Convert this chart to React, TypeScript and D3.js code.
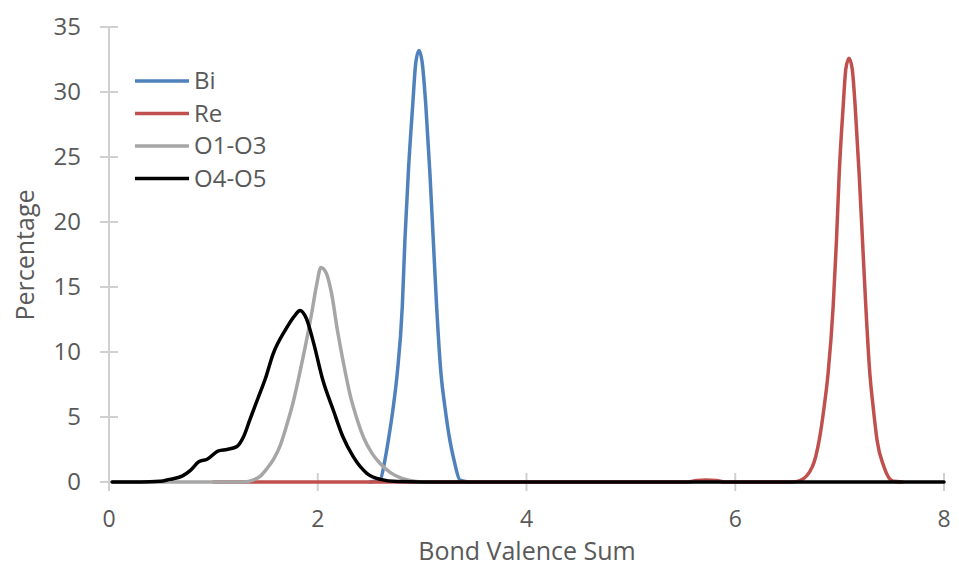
import React from "react";
import * as d3 from "d3";

const seriesNames = ["Bi", "Re", "O1-O3", "O4-O5"];
const seriesColors = ["#4f81bd", "#c0504d", "#a6a6a6", "#000000"];

const biX = [2.5, 2.596, 2.644, 2.676, 2.724, 2.762, 2.81, 2.835, 2.867, 2.909, 2.94, 2.97, 3.0, 3.036, 3.075, 3.107, 3.139, 3.18, 3.218, 3.266, 3.305, 3.362, 3.45];
const biY = [0, 0.15, 1.7, 3.2, 5.8, 8.4, 13.5, 18.6, 23.7, 28.9, 32.3, 33.2, 32.3, 28.9, 23.7, 18.6, 13.5, 8.4, 5.8, 3.2, 1.7, 0.15, 0];

const reX = [1.0, 5.55, 5.63, 5.72, 5.82, 5.9, 6.55, 6.619, 6.74, 6.804, 6.852, 6.89, 6.938, 6.97, 6.996, 7.034, 7.06, 7.09, 7.12, 7.149, 7.187, 7.219, 7.251, 7.289, 7.321, 7.359, 7.423, 7.513, 7.6];
const reY = [0, 0, 0.12, 0.15, 0.12, 0, 0, 0.1, 1.2, 3.2, 5.8, 8.4, 13.5, 18.6, 23.7, 28.9, 31.8, 32.6, 31.8, 28.9, 23.7, 18.6, 13.5, 8.4, 5.8, 3.2, 1.2, 0.05, 0];

const o13X = [0.03, 1.3, 1.38, 1.45, 1.51, 1.58, 1.64, 1.7, 1.76, 1.82, 1.88, 1.94, 1.99, 2.03, 2.08, 2.13, 2.19, 2.25, 2.31, 2.37, 2.44, 2.52, 2.6, 2.7, 2.8, 2.9, 3.0];
const o13Y = [0, 0, 0.15, 0.45, 1.0, 1.8, 2.8, 4.3, 6.0, 8.1, 10.4, 12.9, 15.2, 16.5, 16.1, 14.6, 11.6, 9.0, 6.7, 5.0, 3.4, 2.2, 1.4, 0.7, 0.3, 0.1, 0];

const o45X = [0.03, 0.3, 0.49, 0.58, 0.7, 0.78, 0.86, 0.94, 1.05, 1.13, 1.22, 1.29, 1.35, 1.43, 1.5, 1.57, 1.69, 1.78, 1.83, 1.89, 1.96, 2.05, 2.15, 2.24, 2.34, 2.47, 2.6, 2.76, 3.0, 8.0];
const o45Y = [0, 0, 0.05, 0.2, 0.45, 0.9, 1.55, 1.75, 2.4, 2.5, 2.7, 3.5, 4.8, 6.5, 8.0, 9.8, 11.7, 12.8, 13.2, 12.6, 10.7, 7.8, 5.5, 3.5, 1.95, 0.67, 0.2, 0.03, 0, 0];

const xTicks = [0, 2, 4, 6, 8];
const yTicks = [0, 5, 10, 15, 20, 25, 30, 35];

const seriesX = [biX, reX, o13X, o45X];
const seriesY = [biY, reY, o13Y, o45Y];

const W = 959;
const H = 568;
const FONT = "'Open Sans', 'Liberation Sans', sans-serif";

export default function App() {
  const x = d3.scaleLinear().domain([0, 8]).range([109, 944]);
  const y = d3.scaleLinear().domain([0, 35]).range([482, 27]);
  const line = d3
    .line<[number, number]>()
    .x((d) => x(d[0]))
    .y((d) => y(d[1]))
    .curve(d3.curveMonotoneX);

  const axisColor = "#d0d0d0";
  const textColor = "#595959";

  return (
    <svg
      width={W}
      height={H}
      style={{ position: "absolute", left: 0, top: 0, background: "#fff" }}
      fontFamily={FONT}
    >
      {/* axes */}
      <line x1={x(0)} x2={x(0)} y1={y(35)} y2={y(0)} stroke={axisColor} strokeWidth={2} />
      <line x1={x(0)} x2={x(8)} y1={y(0)} y2={y(0)} stroke={axisColor} strokeWidth={2} />
      {yTicks.map((t) => (
        <g key={"y" + t}>
          <line x1={x(0) - 9} x2={x(0) + 9} y1={y(t)} y2={y(t)} stroke={axisColor} strokeWidth={2} />
          <text x={81} y={y(t)} dy="0.35em" textAnchor="end" fontSize={24} fill={textColor}>
            {t}
          </text>
        </g>
      ))}
      {xTicks.map((t) => (
        <g key={"x" + t}>
          <line x1={x(t)} x2={x(t)} y1={y(0) - 9} y2={y(0) + 9} stroke={axisColor} strokeWidth={2} />
          <text x={x(t)} y={519} dy="0.35em" textAnchor="middle" fontSize={23} fill={textColor}>
            {t}
          </text>
        </g>
      ))}
      <text x={527} y={551} dy="0.35em" textAnchor="middle" fontSize={25} fill={textColor}>
        Bond Valence Sum
      </text>
      <text
        transform={`translate(25,255) rotate(-90)`}
        dy="0.35em"
        textAnchor="middle"
        fontSize={25}
        fill={textColor}
      >
        Percentage
      </text>

      {/* series */}
      {seriesNames.map((name, i) => {
        const pts: [number, number][] = seriesX[i].map((v, j) => [v, seriesY[i][j]]);
        return (
          <path
            key={name}
            d={line(pts) || ""}
            fill="none"
            stroke={seriesColors[i]}
            strokeWidth={3.5}
            strokeLinejoin="round"
            strokeLinecap="round"
          />
        );
      })}

      {/* legend */}
      {seriesNames.map((name, i) => {
        const ly = 81 + i * 32.5;
        return (
          <g key={"leg" + name}>
            <line x1={135} x2={189} y1={ly} y2={ly} stroke={seriesColors[i]} strokeWidth={3.5} />
            <text x={194} y={ly} dy="0.35em" fontSize={24} fill={textColor}>
              {name}
            </text>
          </g>
        );
      })}
    </svg>
  );
}
